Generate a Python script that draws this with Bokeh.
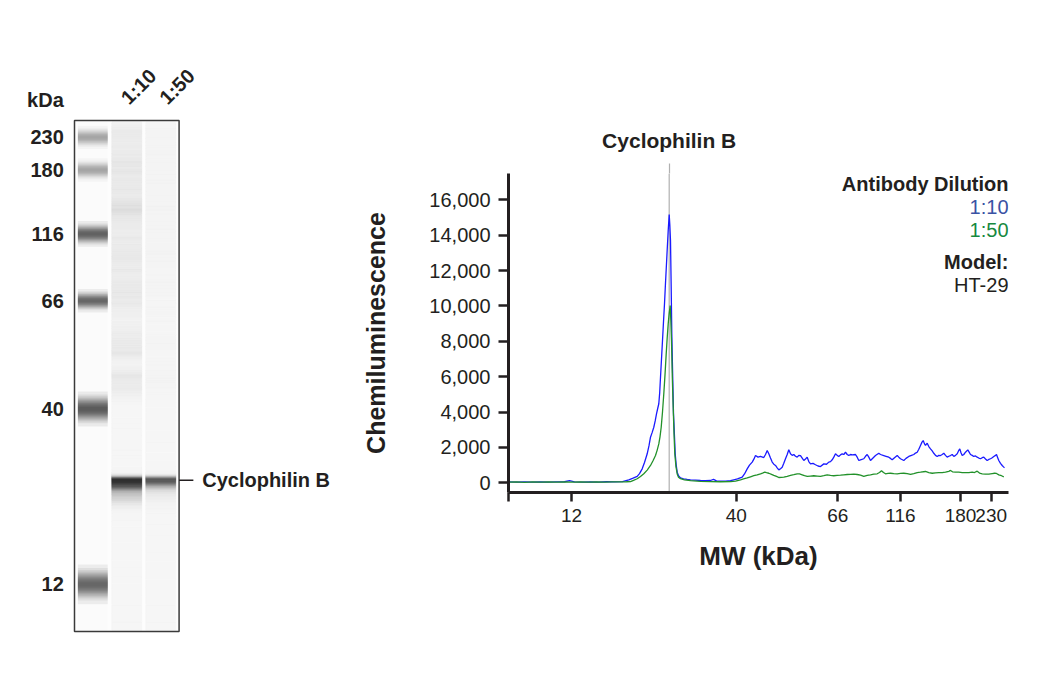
import numpy as np
from bokeh.plotting import figure
from bokeh.layouts import row
from bokeh.models import (Range1d, FixedTicker, NumeralTickFormatter, Label, Span,
                          LinearAxis, ColumnDataSource)
from bokeh.core.properties import value
from bokeh.transform import linear_cmap
from bokeh.embed import file_html
from bokeh.resources import INLINE

# ---------------- data ----------------
# molecular-weight ladder (kDa) and its migration position (a.u.)
ladder_kda = [12, 40, 66, 116, 180, 230]
ladder_pos = [63.0, 227.7, 329.3, 392.0, 452.0, 482.7]
ladder_darkness = [0.57, 0.63, 0.56, 0.60, 0.33, 0.33]

target_name = "Cyclophilin B"
target_pos = 160.7
dilutions = ["1:10", "1:50"]
model_name = "HT-29"
y_ticks = [0, 2000, 4000, 6000, 8000, 10000, 12000, 14000, 16000]

# electropherogram, 1:10 dilution
blue_pos = [0, 8, 16, 24, 32, 40, 48, 56, 61, 66, 74, 82, 90, 98, 106, 114,
            120.3, 124, 128.7, 131, 133.7, 136, 138.7, 140.5, 142, 143.7, 145.3, 146.7, 148, 149.2,
            150.3, 151.2, 152, 153, 154, 155, 156, 157, 158, 159, 159.7, 160.7,
            161.3, 162, 162.7, 163.3, 164.2, 165, 166, 166.7, 167.7, 168.7, 170, 172, 175, 178.7,
            182, 187, 192, 197, 202, 205, 208, 212, 217, 222,
            225.3, 229, 233.7, 236, 238.7, 241, 243.7, 245.5, 247, 249.5, 252, 255.3, 257, 258.7,
            260.3, 262, 263.7, 265.3, 267, 268.7, 270.3, 272, 273.7, 275.3, 277, 278.7, 280.3,
            282, 283.7, 285.3, 287, 288.7, 290.3, 292, 293.7, 295.3, 297, 298.7, 300.3, 302, 304.5,
            307, 309.5, 312, 315.3, 318, 320.3, 322, 323.7, 325.3, 327, 328.7, 330.3, 332, 333.7,
            335.3, 337, 338.7, 340.3, 342, 344, 347,
            348.7, 350.3, 352, 355.3, 357, 358.7, 360.3, 362, 364.5, 367, 370.3, 372, 375.3, 377.5,
            380.3, 382, 383.7, 386, 388.7, 390.3, 392, 395.3, 397.5, 400.3, 403, 405.3, 407, 408.7,
            410.3, 412, 413.5, 414.7, 416, 417, 418.7, 420.3,
            422, 423.7, 425.3, 427, 428.7, 430.3, 432, 433.7, 435.3, 437, 438.7, 440.3, 442, 443.7,
            445.3, 447, 448.7, 450, 451.3, 452.5, 453.7, 455.3, 457, 459.3, 460.5, 462, 463.7, 465.3,
            467, 468.7, 470.3, 472, 473.7, 475.3, 477, 478.7, 480.3, 482, 483.7, 485.3, 487, 488,
            489, 490.3, 492, 493.7, 495, 496]
blue_signal = [50, 40, 50, 40, 50, 40, 50, 60, 120, 50, 40, 50, 40, 60, 50, 70,
               170, 250, 360, 520, 790, 1150, 1640, 2100, 2580, 2850, 3140, 3500, 3900, 4200,
               4470, 5100, 5970, 7000, 8040, 9100, 10120, 11300, 12400, 13500, 14260, 15170,
               14600, 13700, 11000, 8420, 6000, 3900, 2600, 1640, 1000, 600, 400, 280, 220, 190,
               170, 150, 130, 120, 130, 190, 110, 100, 90, 120,
               170, 220, 320, 500, 790, 1000, 1170, 1350, 1540, 1450, 1490, 1430, 1600, 1830,
               1640, 1400, 1170, 1050, 980, 850, 730, 800, 880, 1100, 1360, 1600, 1870,
               1640, 1550, 1600, 1500, 1450, 1550, 1540, 1400, 1260, 1350, 1450, 1200, 1070, 1100,
               1020, 950, 920, 1070, 1050, 1170, 1200, 1300, 1450, 1640, 1550, 1490, 1580, 1640,
               1600, 1730, 1600, 1540, 1600, 1580, 1600,
               1450, 1260, 1300, 1360, 1500, 1600, 1450, 1260, 1400, 1540, 1670, 1600, 1540, 1500,
               1450, 1380, 1300, 1420, 1540, 1450, 1360, 1260, 1380, 1490, 1550, 1600, 1680, 1730,
               1900, 2110, 2300, 2390, 2200, 2110, 2240, 2050,
               1920, 1800, 1670, 1550, 1490, 1550, 1540, 1600, 1670, 1550, 1450, 1500, 1540, 1600,
               1490, 1550, 1640, 1800, 1920, 1700, 1540, 1600, 1730, 1860, 1750, 1600, 1550, 1490,
               1520, 1450, 1400, 1360, 1420, 1450, 1350, 1260, 1320, 1360, 1420, 1490, 1550, 1600,
               1450, 1260, 1100, 980, 900, 850]

# electropherogram, 1:50 dilution
green_pos = [0, 8, 16, 24, 32, 40, 48, 56, 64, 72, 80, 88, 96, 104, 112, 118,
             122, 125, 128.7, 132, 135.3, 138.7, 142, 144.5, 147, 148.7, 150.3, 151.5, 152.7, 154,
             155.3, 156.5, 157.7, 158.7, 159.7, 160.7, 161.7,
             162.3, 163, 163.8, 164.7, 165.5, 166.3, 167.5, 168.7, 170, 172, 176, 182, 192, 202,
             212, 222, 227, 232, 235, 238.7, 242, 245.3, 248.7, 252, 254, 256.3, 258, 260.3, 263,
             265.3, 268, 270.3, 273, 275.3, 278.7, 282, 285.3, 288.7, 291, 293.7, 296, 298.7,
             302, 305.3, 308.7, 312, 315.3, 318.7, 322, 325.3, 328.7, 332, 335.3, 338.7, 342, 345.3,
             348.7, 352, 355.3, 358.7, 362, 365.3, 368.7, 371, 373, 375, 377, 379.5, 382, 385.3,
             388.7, 392, 395.3, 398.7, 402, 405.3, 408.7, 412, 417, 420.3, 423.7, 427, 430.3, 433.7,
             437, 440.3, 442, 444, 447, 450.3, 453.7, 457, 460.3, 463.7, 466, 468.7, 471, 473.7,
             477, 480.3, 483.7, 486, 488, 490.3, 493, 495.3]
green_signal = [40, 50, 30, 50, 40, 50, 40, 50, 40, 50, 40, 50, 40, 50, 50, 60,
                70, 140, 230, 360, 510, 720, 980, 1250, 1540, 1850, 2200, 2600, 3140, 4000,
                5030, 6100, 7290, 8200, 8990, 9600, 10020,
                9200, 8040, 6000, 4270, 2800, 1640, 900, 500, 320, 230, 160, 120, 80, 70,
                60, 70, 100, 170, 220, 280, 340, 400, 450, 510, 550, 600, 570, 540, 480,
                420, 360, 300, 310, 320, 370, 420, 460, 510, 500, 450, 400, 360,
                380, 400, 380, 360, 400, 450, 420, 400, 420, 430, 450, 470, 480, 490,
                470, 430, 360, 420, 450, 490, 510, 580, 680, 580, 510, 530, 540, 520,
                510, 530, 540, 520, 470, 520, 580, 600, 640, 580, 540, 560, 570, 580,
                600, 650, 700, 620, 600, 600, 580, 570, 570, 600, 580, 660, 550, 510,
                490, 490, 520, 540, 530, 450, 400, 340]

assert len(blue_pos) == len(blue_signal)
assert len(green_pos) == len(green_signal)

# ---------------- styles ----------------
FONT = "Liberation Sans"
INK = "#231f20"
BLUE = "#1a1aff"
GREEN = "#22912a"
BLUE_TXT = "#3a52a4"
GREEN_TXT = "#17893f"
ladder_halfwidth = [8.5, 7.5, 5.0, 5.5, 5.0, 5.0]   # band half thickness at half max (style)

# grey palette of the virtual blot (darker = stronger signal)
gel_palette = []
for i in range(256):
    v = i / 255 * 16000
    d = 0.88 * (1 - np.exp(-(v / 8000) ** 1.7))
    g = int(round(246 * (1 - d)))
    gel_palette.append("#%02x%02x%02x" % (g, g, g))

# ---------------- virtual blot (lane view) ----------------
# lane units along x (1 lane = 34 px), migration units along y (shared with the trace axis)
GX = (-1.7144, 8.5208)
GY = (-34.8, 611.2)
BOX_X = (0.462, 3.538)
BOX_Y = (18.7, 498.5)
gel = figure(width=348, height=688, x_range=Range1d(*GX), y_range=Range1d(*GY),
             output_backend="svg", toolbar_location=None,
             x_axis_location=None, y_axis_location=None, min_border=0)
gel.frame_align = False
gel.grid.visible = False
gel.outline_line_color = None
gel.background_fill_color = "white"

lanes = [1, 2, 3]
LW = 0.44
gel.quad(left=BOX_X[0], right=BOX_X[1], bottom=BOX_Y[0], top=BOX_Y[1],
         fill_color="#fdfdfd", line_color=None)
gel.quad(left=[l - LW for l in lanes], right=[l + LW for l in lanes],
         bottom=BOX_Y[0], top=BOX_Y[1], fill_color=["#fbfbfb", "#f5f5f5", "#f8f8f8"],
         line_color=None)

# ladder bands: stacked translucent layers approximate a gaussian band profile
K = 14
for k in range(1, K + 1):
    f = np.sqrt(2 * np.log(K / (k - 0.5))) / 1.1774   # contour half-height / HWHM
    gel.rect(x=1, y=ladder_pos, width=2 * LW,
             height=[2 * h * f for h in ladder_halfwidth],
             fill_color="black", fill_alpha=[1 - (1 - d) ** (1 / K) for d in ladder_darkness],
             line_color=None)

# sample lanes drawn from the electropherogram signals
def lane_source(pos, sig):
    pos = np.asarray(pos, dtype=float)
    mids = (pos[:-1] + pos[1:]) / 2
    bottom = np.concatenate([[pos[0] - (mids[0] - pos[0])], mids])
    top = np.concatenate([mids, [pos[-1] + (pos[-1] - mids[-1])]])
    top = np.minimum(top, BOX_Y[1])
    keep = bottom >= BOX_Y[0]
    return ColumnDataSource(dict(bottom=bottom[keep], top=top[keep],
                                 signal=np.asarray(sig)[keep]))

for lane, pos, sig in [(2, blue_pos, blue_signal), (3, green_pos, green_signal)]:
    cmap = linear_cmap("signal", gel_palette, 0, 16000)
    gel.quad(left=lane - LW, right=lane + LW, bottom="bottom", top="top",
             source=lane_source(pos, sig), fill_color=cmap, line_color=cmap, line_width=0.6)

# gel frame
gel.quad(left=BOX_X[0], right=BOX_X[1], bottom=BOX_Y[0], top=BOX_Y[1],
         fill_color=None, line_color="#3a3a3a", line_width=1.5)

txt = dict(text_font=value(FONT), text_font_style="bold", text_font_size="20px",
           text_color=INK)
LABEL_X = BOX_X[0] - 0.315
gel.text(x=LABEL_X, y=ladder_pos, text=[str(k) for k in ladder_kda],
         text_align="right", text_baseline="middle", **txt)
gel.text(x=[LABEL_X], y=[518.2], text=["kDa"], text_align="right", text_baseline="middle", **txt)
gel.text(x=[1.93, 3.06], y=[517.0, 517.0], text=dilutions, angle=45, angle_units="deg",
         text_align="left", text_baseline="middle", **txt)
gel.segment(x0=BOX_X[1], x1=BOX_X[1] + 0.42, y0=target_pos, y1=target_pos,
            line_color=INK, line_width=1.5)
gel.text(x=[BOX_X[1] + 0.68], y=[target_pos], text=[target_name],
         text_align="left", text_baseline="middle", **txt)

# ---------------- electropherogram ----------------
ch = figure(width=680, height=688, x_range=Range1d(0, 500), y_range=Range1d(-548, 17485),
            output_backend="svg", toolbar_location=None,
            min_border_left=160, min_border_right=20, min_border_top=173, min_border_bottom=196)
ch.frame_align = False
ch.grid.visible = False
ch.outline_line_color = None

ch.add_layout(Span(location=target_pos, dimension="height", line_color="#b0b0b0",
                   line_width=1.2, level="underlay"))
ch.line(blue_pos, blue_signal, line_color=BLUE, line_width=1.3)
ch.line(green_pos, green_signal, line_color=GREEN, line_width=1.3)

# target marker above the plot: grey tick continuing the line, with the target name
ta = LinearAxis(ticker=FixedTicker(ticks=[target_pos]),
                major_label_overrides={target_pos: target_name},
                axis_line_color=None, minor_tick_line_color=None,
                major_tick_out=10, major_tick_in=0, major_tick_line_color="#b0b0b0",
                major_tick_line_width=1.2, major_label_standoff=12,
                major_label_text_font=FONT, major_label_text_font_style="bold",
                major_label_text_font_size="21px", major_label_text_color=INK)
ch.add_layout(ta, "above")

xa = ch.below[0]
xa.ticker = FixedTicker(ticks=[0.0] + ladder_pos)
ov = {0.0: ""}
ov.update({p: str(k) for p, k in zip(ladder_pos, ladder_kda)})
xa.major_label_overrides = ov
xa.axis_line_width = 3
xa.axis_line_color = INK
xa.major_tick_line_width = 2.5
xa.major_tick_line_color = INK
xa.major_tick_out = 9
xa.major_tick_in = 0
xa.minor_tick_line_color = None
xa.major_label_standoff = 7
xa.major_label_text_font = FONT
xa.major_label_text_font_size = "19px"
xa.major_label_text_color = INK
xa.axis_label = "MW (kDa)"
xa.axis_label_text_font = FONT
xa.axis_label_text_font_style = "bold"
xa.axis_label_text_font_size = "26px"
xa.axis_label_text_color = INK
xa.axis_label_standoff = 16

ya = ch.yaxis[0]
ya.ticker = FixedTicker(ticks=y_ticks)
ya.formatter = NumeralTickFormatter(format="0,0")
ya.axis_line_width = 3
ya.axis_line_color = INK
ya.major_tick_line_width = 2.5
ya.major_tick_line_color = INK
ya.major_tick_out = 10
ya.major_tick_in = 0
ya.minor_tick_line_color = None
ya.major_label_standoff = 8
ya.major_label_text_font = FONT
ya.major_label_text_font_size = "20px"
ya.major_label_text_color = INK
ya.axis_label = "Chemiluminescence"
ya.axis_label_text_font = FONT
ya.axis_label_text_font_style = "bold"
ya.axis_label_text_font_size = "25px"
ya.axis_label_text_color = INK
ya.axis_label_standoff = 36

legend_rows = [("Antibody Dilution", INK, "bold", 16919),
               (dilutions[0], BLUE_TXT, "normal", 15563),
               (dilutions[1], GREEN_TXT, "normal", 14319),
               ("Model:", INK, "bold", 12510),
               (model_name, INK, "normal", 11210)]
for t, col, sty, yy in legend_rows:
    ch.add_layout(Label(x=500, y=yy, text=t, text_align="right", text_baseline="middle",
                        text_font=FONT, text_font_style=sty, text_font_size="20px",
                        text_color=col))

layout = row(gel, ch)
open("out.html", "w").write(file_html(layout, INLINE))
